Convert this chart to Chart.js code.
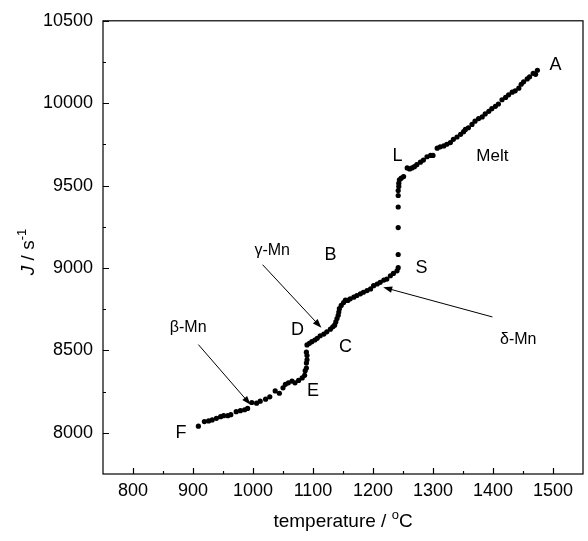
<!DOCTYPE html>
<html><head><meta charset="utf-8">
<style>html,body{margin:0;padding:0;background:#fff}</style>
<script src="https://cdn.jsdelivr.net/npm/chart.js@4.4.1/dist/chart.umd.min.js"></script>
</head><body>
<canvas id="c" width="588" height="541" style="width:588px;height:541px;display:block"></canvas>
<script>
// temperature (°C) and rate J (s^-1)
const temperature = [
909,919,926,932,939,946,951,958,963,972,979,986,991,998,1006,1012,1021,1028,1037,1044,1050,
1054,1059,1065,1070,1076,1082,1086,1087,1089,1089,1090,1090,1089,
1090,1094,1098,1103,1107,1112,1118,1123,1129,1133,1136,1138,1140,1142,1143,1144,1147,1151,1154,
1158,1162,1168,1173,1179,1184,1190,1196,1201,1207,1212,1218,1223,1229,1234,1240,1242,
1242,1242,1242,1242,1242,1243,1243,1244,1247,1251,
1257,1261,1265,1269,1273,1279,1284,1290,1296,1300,1307,1312,1318,1323,1329,1334,1340,1346,1351,1354,1359,1365,1370,1376,1382,1387,1393,1398,1404,1409,1415,1421,1426,1432,1437,1443,1447,1451,1457,1461,1467,1471,1474
];
const rate = [
8040,8068,8072,8078,8088,8098,8104,8104,8110,8128,8134,8140,8148,8184,8180,8192,8204,8218,8254,8240,8273,
8294,8303,8314,8303,8318,8333,8349,8377,8393,8423,8443,8469,8489,
8533,8543,8553,8563,8573,8589,8599,8613,8629,8643,8653,8673,8693,8713,8733,8753,8773,8790,8805,
8803,8813,8823,8833,8843,8853,8863,8873,8893,8903,8913,8927,8933,8953,8967,8983,9002,
9082,9245,9370,9440,9470,9495,9515,9535,9545,9555,
9607,9601,9607,9615,9627,9642,9655,9675,9683,9683,9727,9735,9741,9751,9761,9781,9795,9811,9827,9841,9851,9871,9891,9907,9917,9935,9951,9967,9981,9995,10021,10035,10051,10067,10075,10091,10115,10130,10147,10160,10181,10175,10200
];
const xTicks = [800,900,1000,1100,1200,1300,1400,1500];
const yTicks = [8000,8500,9000,9500,10000,10500];
const xMinor = [850,950,1050,1150,1250,1350,1450];
const yMinor = [8250,8750,9250,9750,10250];

const noteText = ['A','Melt','L','S','B','D','C','E','F','γ-Mn','β-Mn','δ-Mn'];
const noteX = [1504,1399,1241,1281,1129,1074,1154,1100,880,1032,892,1442];
const noteY = [10230,9679,9679,9002,9080,8625,8523,8254,7996,9104,8637,8565];
// arrows: from (x0,y0) to (x1,y1)
const arrowX0 = [1016,909,1399];
const arrowY0 = [9020,8535,8703];
const arrowX1 = [1114,996,1217];
const arrowY1 = [8637,8170,8883];

const FONT = '"Liberation Sans", Arial, sans-serif';

const deco = {
  id:'deco',
  afterDraw(chart){
    const ctx = chart.ctx, a = chart.chartArea, xs = chart.scales.x, ys = chart.scales.y;
    ctx.save();
    ctx.strokeStyle = '#000'; ctx.lineWidth = 1.2;
    ctx.strokeRect(a.left, a.top, a.right-a.left, a.bottom-a.top);
    ctx.beginPath();
    xTicks.forEach(v=>{const p=Math.round(xs.getPixelForValue(v))+0.5; ctx.moveTo(p,a.bottom); ctx.lineTo(p,a.bottom-6);});
    xMinor.forEach(v=>{const p=Math.round(xs.getPixelForValue(v))+0.5; ctx.moveTo(p,a.bottom); ctx.lineTo(p,a.bottom-3);});
    yTicks.forEach(v=>{const p=Math.round(ys.getPixelForValue(v))+0.5; ctx.moveTo(a.left,p); ctx.lineTo(a.left+6,p);});
    yMinor.forEach(v=>{const p=Math.round(ys.getPixelForValue(v))+0.5; ctx.moveTo(a.left,p); ctx.lineTo(a.left+3,p);});
    ctx.stroke();
    // annotations
    ctx.fillStyle = '#000';
    ctx.textAlign = 'center'; ctx.textBaseline = 'middle';
    noteText.forEach((t,i)=>{
      ctx.font = (t.length>2 ? '16px ' : '18px ') + FONT;
      if (t==='Melt') ctx.font = '17px ' + FONT;
      ctx.fillText(t, xs.getPixelForValue(noteX[i]), ys.getPixelForValue(noteY[i]));
    });
    ctx.lineWidth = 1;
    arrowX0.forEach((_,i)=>{
      const x0=xs.getPixelForValue(arrowX0[i]), y0=ys.getPixelForValue(arrowY0[i]);
      const x1=xs.getPixelForValue(arrowX1[i]), y1=ys.getPixelForValue(arrowY1[i]);
      const ang=Math.atan2(y1-y0,x1-x0), L=9, W=3.2;
      ctx.beginPath(); ctx.moveTo(x0,y0); ctx.lineTo(x1-Math.cos(ang)*L*0.8,y1-Math.sin(ang)*L*0.8); ctx.stroke();
      ctx.beginPath();
      ctx.moveTo(x1,y1);
      ctx.lineTo(x1-Math.cos(ang)*L+Math.sin(ang)*W, y1-Math.sin(ang)*L-Math.cos(ang)*W);
      ctx.lineTo(x1-Math.cos(ang)*L-Math.sin(ang)*W, y1-Math.sin(ang)*L+Math.cos(ang)*W);
      ctx.closePath(); ctx.fill();
    });
    // axis titles
    ctx.textBaseline='alphabetic';
    const t1='temperature / ', t3='C';
    ctx.font='19px '+FONT; const w1=ctx.measureText(t1).width, w3=ctx.measureText(t3).width;
    ctx.font='13px '+FONT; const w2=ctx.measureText('o').width;
    const cx=(a.left+a.right)/2, total=w1+w2+w3; let sx=cx-total/2; const by=527;
    ctx.textAlign='left';
    ctx.font='19px '+FONT; ctx.fillText(t1,sx,by);
    ctx.font='13px '+FONT; ctx.fillText('o',sx+w1,by-8);
    ctx.font='19px '+FONT; ctx.fillText(t3,sx+w1+w2,by);
    // y title rotated
    ctx.save();
    ctx.translate(34, 252); ctx.rotate(-Math.PI/2);
    ctx.font='italic 19px '+FONT; const wj=ctx.measureText('J').width;
    ctx.font='19px '+FONT; const ws=ctx.measureText(' / s').width;
    ctx.font='13px '+FONT; const wm=ctx.measureText('-1').width;
    let yx=-(wj+ws+wm)/2;
    ctx.font='italic 19px '+FONT; ctx.fillText('J',yx,0);
    ctx.font='19px '+FONT; ctx.fillText(' / s',yx+wj,0);
    ctx.font='13px '+FONT; ctx.fillText('-1',yx+wj+ws,-8);
    ctx.restore();
    ctx.restore();
  }
};

new Chart(document.getElementById('c'), {
  type:'scatter',
  data:{datasets:[{data: temperature.map((t,i)=>({x:t,y:rate[i]})), backgroundColor:'#000', borderWidth:0, pointRadius:2.6, pointHoverRadius:2.6}]},
  options:{
    responsive:false, animation:false, devicePixelRatio:1,
    layout:{padding:{left:0,right:5,top:15,bottom:0}},
    plugins:{legend:{display:false}, tooltip:{enabled:false}},
    scales:{
      x:{type:'linear', min:750, max:1550,
        afterBuildTicks:s=>{s.ticks=xTicks.map(v=>({value:v}));},
        afterFit:s=>{s.height=67;},
        grid:{display:true, drawOnChartArea:false, drawTicks:false},
        border:{display:false},
        ticks:{color:'#000', font:{family:FONT,size:18}, padding:6, maxRotation:0, autoSkip:false, callback:v=>String(v)}},
      y:{type:'linear', min:7750, max:10500,
        afterBuildTicks:s=>{s.ticks=yTicks.map(v=>({value:v}));},
        afterFit:s=>{s.width=103;},
        grid:{display:true, drawOnChartArea:false, drawTicks:false},
        border:{display:false},
        ticks:{color:'#000', font:{family:FONT,size:18}, padding:10, autoSkip:false, callback:v=>String(v)}}
    }
  },
  plugins:[deco]
});
</script>
</body></html>
